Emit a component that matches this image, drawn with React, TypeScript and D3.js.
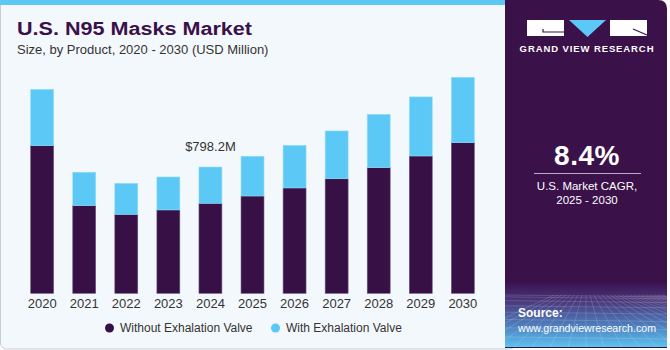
import React from 'react';
import * as d3 from 'd3';

const years = ['2020', '2021', '2022', '2023', '2024', '2025', '2026', '2027', '2028', '2029', '2030'];
const withoutValve = [933, 554, 499, 527, 569, 615, 666, 724, 794, 868, 952];
const withValve = [356, 211, 196, 208, 229, 251, 269, 302, 337, 373, 413];
const seriesNames = ['Without Exhalation Valve', 'With Exhalation Valve'];
const seriesColors = ['#371046', '#5bc8f5'];
const annotationYear = '2024';
const annotationText = '$798.2M';

const W = 670, H = 350;
const PANEL_X = 505;

export default function App() {
  const rows = years.map((y, i) => ({ year: y, a: withoutValve[i], b: withValve[i] }));
  const stack = d3.stack<any>().keys(['a', 'b'])(rows);

  const x = d3.scaleBand().domain(years).range([30.7, 474.3]).paddingInner(0.455).paddingOuter(0);
  const y = d3.scaleLinear().domain([0, 1400]).range([293.3, 293.3 - 1400 / 6.32]);

  const annIdx = years.indexOf(annotationYear);
  const annTop = y(withoutValve[annIdx] + withValve[annIdx]);

  // decorative grid in the source box
  const gridTop = 283, gridBottom = 347;
  const hLines = d3.range(0, 9).map(i => gridTop + 12 + Math.pow(i / 8, 1.6) * (gridBottom - gridTop - 12));
  const vLines = d3.range(-8, 20).map(i => i);

  return (
    <svg width={W} height={H} style={{ position: 'absolute', left: 0, top: 0 }} fontFamily="'Liberation Sans', Arial, sans-serif">
      <defs>
        <linearGradient id="srcGrad" x1="0" y1="0" x2="0" y2="1">
          <stop offset="0" stopColor="#3b1452" />
          <stop offset="0.3" stopColor="#4a3a7e" />
          <stop offset="0.7" stopColor="#4f86c4" />
          <stop offset="1" stopColor="#5cc2ee" />
        </linearGradient>
        <clipPath id="srcClip">
          <rect x={PANEL_X} y={gridTop} width={W - 3 - PANEL_X} height={gridBottom - gridTop} />
        </clipPath>
      </defs>

      {/* left card */}
      <rect x={0.5} y={-10} width={PANEL_X + 10} height={359} rx={6} fill="#f3f8fc" stroke="#c8cdd2" />
      <rect x={0} y={0} width={PANEL_X} height={5} fill="#5bc8f5" />

      {/* right panel */}
      <path d={`M${PANEL_X},0 H${W - 12} Q${W - 3},0 ${W - 3},9 V${H - 2} H${PANEL_X} Z`} fill="#3a1149" />
      <rect x={PANEL_X} y={gridTop} width={W - 3 - PANEL_X} height={gridBottom - gridTop} fill="url(#srcGrad)" />
      <g clipPath="url(#srcClip)" stroke="#ffffff" strokeOpacity={0.22} strokeWidth={0.7} fill="none">
        {hLines.map((hy, i) => <line key={'h' + i} x1={PANEL_X} x2={W} y1={hy} y2={hy + 2} />)}
        {vLines.map(i => (
          <line key={'v' + i} x1={586 + i * 4} y1={gridTop + 12} x2={586 + i * 18} y2={gridBottom} />
        ))}
      </g>

      {/* logo */}
      <rect x={527} y={20} width={37} height={16} fill="#ffffff" />
      <path d="M543,29 V32 H564" stroke="#3a1149" strokeWidth={1.2} fill="none" />
      <path d="M569,20 H606 L587.5,37 Z" fill="#5bc8f5" />
      <rect x={610} y={20} width={37} height={16} fill="#ffffff" />
      <path d="M633,29 L647,35" stroke="#3a1149" strokeWidth={1.2} fill="none" />
      <text x={587} y={52} textAnchor="middle" fill="#ffffff" fontSize={9.5} fontWeight="bold" letterSpacing={0.9}>GRAND VIEW RESEARCH</text>

      {/* CAGR */}
      <text x={587} y={165} textAnchor="middle" fill="#ffffff" fontSize={28} fontWeight="bold" letterSpacing={0.5}>8.4%</text>
      <line x1={534} x2={641} y1={173.5} y2={173.5} stroke="#b9a9c9" strokeWidth={1.2} />
      <text x={587} y={190} textAnchor="middle" fill="#ffffff" fontSize={11.5}>U.S. Market CAGR,</text>
      <text x={587} y={204} textAnchor="middle" fill="#ffffff" fontSize={11.5}>2025 - 2030</text>

      {/* source */}
      <text x={518} y={317} fill="#ffffff" fontSize={12} fontWeight="bold">Source:</text>
      <text x={518} y={331.5} fill="#ffffff" fontSize={11} textLength={138} lengthAdjust="spacingAndGlyphs">www.grandviewresearch.com</text>

      {/* titles */}
      <text x={17} y={35} fill="#3a1149" fontSize={18} fontWeight="bold" textLength={235} lengthAdjust="spacingAndGlyphs">U.S. N95 Masks Market</text>
      <text x={17} y={54} fill="#333333" fontSize={13}>Size, by Product, 2020 - 2030 (USD Million)</text>

      {/* bars */}
      {stack.map((s, si) => (
        <g key={si} fill={seriesColors[si]}>
          {s.map((d: any) => (
            <rect key={d.data.year}
              x={x(d.data.year)!}
              y={y(d[1])}
              width={x.bandwidth()}
              height={y(d[0]) - y(d[1])}
              stroke={si === 0 ? '#6a5580' : '#8fdcfb'}
              strokeWidth={0.6} />
          ))}
        </g>
      ))}

      {/* x axis labels */}
      {years.map(yr => (
        <text key={yr} x={x(yr)! + x.bandwidth() / 2} y={308} textAnchor="middle" fontSize={13} fill="#333333">{yr}</text>
      ))}

      {/* annotation */}
      <text x={x(annotationYear)! + x.bandwidth() / 2} y={annTop - 16} textAnchor="middle" fontSize={13} fill="#333333">{annotationText}</text>

      {/* legend */}
      {seriesNames.map((n, i) => {
        const lx = i === 0 ? 109.5 : 275.5;
        return (
          <g key={n}>
            <circle cx={lx} cy={328} r={4.5} fill={seriesColors[i]} />
            <text x={lx + 10.5} y={332} fontSize={12} fill="#333333">{n}</text>
          </g>
        );
      })}
    </svg>
  );
}
